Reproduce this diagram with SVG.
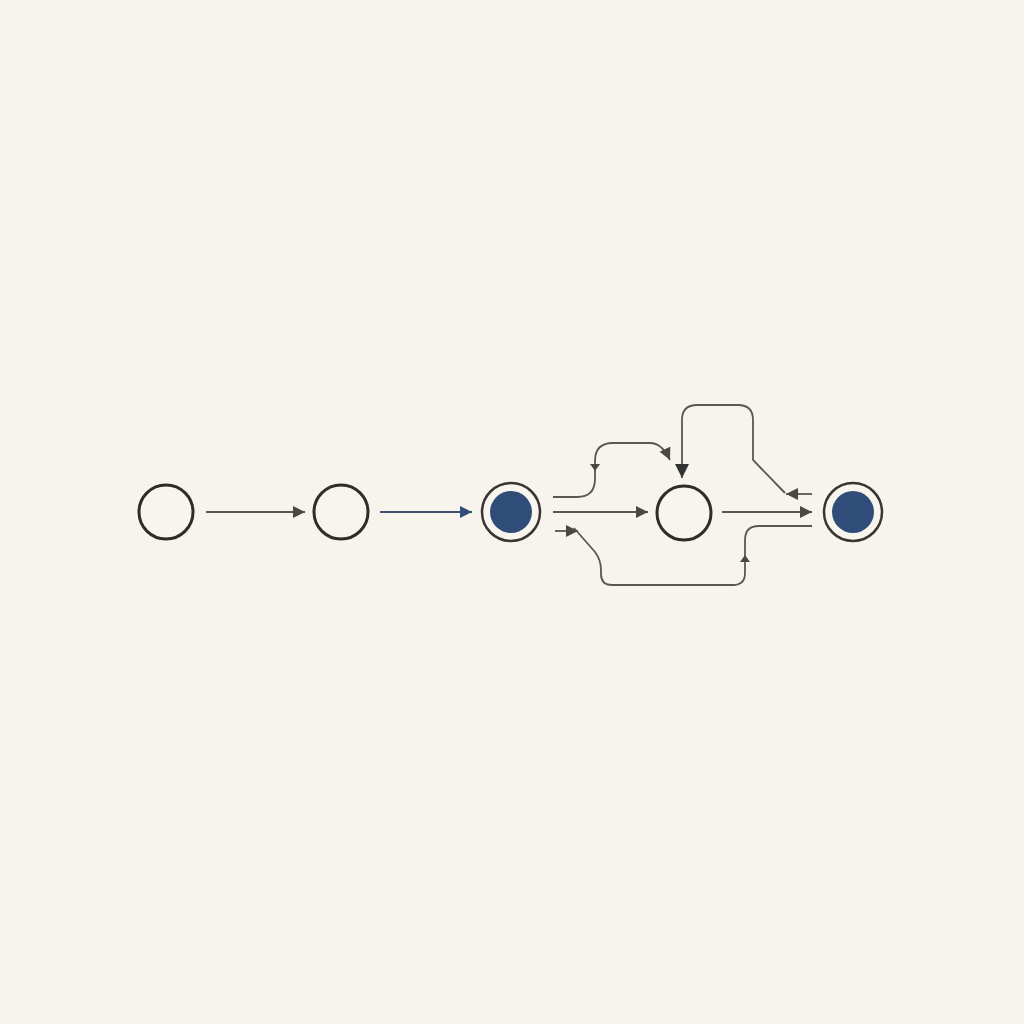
<svg xmlns="http://www.w3.org/2000/svg" width="1024" height="1024" viewBox="0 0 1024 1024">
<defs>
<style>
.node{fill:#f8f5ef;stroke:#302c28;stroke-width:3}
.ring{fill:#f8f5ef;stroke:#3a3530;stroke-width:2.5}
.core{fill:#2f4d78}
.edge{fill:none;stroke:#5a5753;stroke-width:1.8}
.head{fill:#4a4744}
</style>
<marker id="ah" viewBox="0 0 10 10" refX="10" refY="5" markerWidth="12" markerHeight="12" markerUnits="userSpaceOnUse" orient="auto"><path d="M0 0 L10 5 L0 10 Z" fill="#4a4744"/></marker>
<marker id="ahb" viewBox="0 0 10 10" refX="10" refY="5" markerWidth="12" markerHeight="12" markerUnits="userSpaceOnUse" orient="auto"><path d="M0 0 L10 5 L0 10 Z" fill="#2f4d78"/></marker>
<marker id="ahl" viewBox="0 0 10 10" refX="10" refY="5" markerWidth="14" markerHeight="14" markerUnits="userSpaceOnUse" orient="auto"><path d="M0 0 L10 5 L0 10 Z" fill="#333"/></marker>
</defs>
<rect width="1024" height="1024" fill="#f7f4ee"/>
<g id="connectors">
<line class="edge" x1="206" y1="512" x2="305" y2="512" marker-end="url(#ah)"/>
<line x1="380" y1="512" x2="472" y2="512" stroke="#3c5272" stroke-width="1.8" marker-end="url(#ahb)"/>
<line class="edge" x1="553" y1="512" x2="648" y2="512" marker-end="url(#ah)"/>
<line class="edge" x1="722" y1="512" x2="812" y2="512" marker-end="url(#ah)"/>
<path class="edge" d="M553 497 L577 497 Q595 497 595 479 L595 461 Q595 443 613 443 L650 443 Q662 443 670 460" marker-end="url(#ah)"/>
<polygon class="head" points="590,464 600,464 595,471"/>
<line class="edge" x1="812" y1="494" x2="786" y2="494" marker-end="url(#ah)"/>
<path class="edge" d="M785 493 L753 460 L753 420 Q753 405 738 405 L697 405 Q682 405 682 420 L682 478" stroke="#3e3b38" marker-end="url(#ahl)"/>
<line class="edge" x1="555" y1="531" x2="578" y2="531" marker-end="url(#ah)"/>
<path class="edge" d="M574 528 L595 552 Q601 560 601 570 L601 574 Q601 585 612 585 L733 585 Q745 585 745 573 L745 540 Q745 526 759 526 L812 526"/>
<polygon class="head" points="740,562 750,562 745,555"/>
</g>
<g id="n1"><circle class="node" cx="166" cy="512" r="27"/></g>
<g id="n2"><circle class="node" cx="341" cy="512" r="27"/></g>
<g id="n3"><circle class="ring" cx="511" cy="512" r="29"/><circle class="core" cx="511" cy="512" r="21"/></g>
<g id="n4"><circle class="node" cx="684" cy="513" r="27"/></g>
<g id="n5"><circle class="ring" cx="853" cy="512" r="29"/><circle class="core" cx="853" cy="512" r="21"/></g>
</svg>
